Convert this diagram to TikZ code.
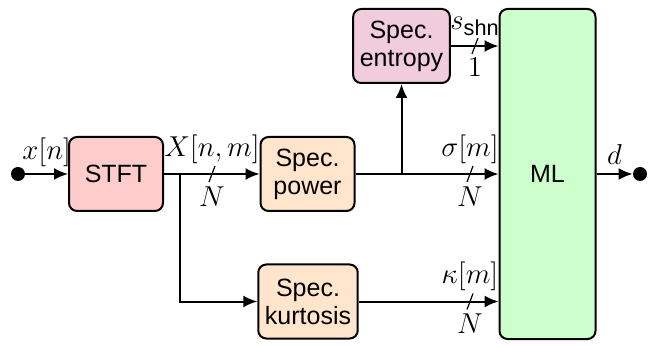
\documentclass[tikz,border=0pt]{standalone}
\usepackage{amsmath}
\usepackage{fontspec}
\setsansfont{Liberation Sans}
\usetikzlibrary{arrows.meta,positioning,calc}
\definecolor{rose}{RGB}{255,204,204}
\definecolor{mauve}{RGB}{240,204,220}
\definecolor{peach}{RGB}{255,229,204}
\definecolor{mint}{RGB}{204,255,204}
\tikzset{
  block/.style={draw,line width=1pt,rounded corners=4pt,minimum width=47pt,
    minimum height=37pt,align=center,font=\sffamily\fontsize{12.5}{14}\selectfont},
  arr/.style={-{Latex[length=7pt,width=6pt]},line width=1pt},
  dot/.style={circle,fill,inner sep=0pt,minimum size=7pt},
  sig/.style={font=\fontsize{15.5}{17}\selectfont,inner sep=1pt},
  bus/.style={line width=0.6pt},
}

\begin{document}
\begin{tikzpicture}[x=0.5pt,y=-0.5pt]
        \useasboundingbox (0,0) rectangle (656,346);
        \node[block,fill=rose] (stft) at (116,174) {STFT};
        \node[block,fill=peach] (power) at (307.5,174) {Spec.\\power};
        \node[block,fill=peach] (kurt) at (308,301.5) {Spec.\\kurtosis};
        \node[block,fill=mauve] (entropy) at (401.5,46) {Spec.\\entropy};
        \node[block,fill=mint,minimum width=48pt,minimum height=165pt] (ml) at (547.5,174) {ML};
        \node[dot] (in) at (18,174) {};
        \node[dot] (out) at (640,174) {};
        \coordinate (br1) at (180,174);
        \coordinate (br2) at (entropy.south |- power.east);
        % bus width marks
        \coordinate (bX) at (212,174);
        \coordinate (bS) at (470,174);
        \coordinate (bK) at (470,301.5);
        \coordinate (bE) at (475,46);
        \draw[arr] (in) -- node[sig,above=2pt] {$x[n]$} (stft);
        \draw[arr] (stft) -- (power);
        \draw[arr] (br1) |- (kurt);
        \draw[arr] (power) -- (ml);
        \draw[arr] (br2) -- (entropy);
        \draw[arr] (entropy) -- (entropy -| ml.west);
        \draw[arr] (kurt) -- (kurt -| ml.west);
        \draw[arr] (ml) -- node[sig,above=3pt] {$d$} (out);
        \foreach \b in {bX,bS,bK,bE}
          \draw[bus] ($(\b)+(-3,8)$) -- ($(\b)+(3,-8)$);
        \node[sig,above=4pt of bX] {$X[n,m]$};
        \node[sig,below=5pt of bX] {$N$};
        \node[sig,above=4pt of bS] {$\sigma[m]$};
        \node[sig,below=5pt of bS] {$N$};
        \node[sig,above=4pt of bK] {$\kappa[m]$};
        \node[sig,below=5pt of bK] {$N$};
        \node[sig,above=4pt of bE] {$s_{\textsf{shn}}$};
        \node[sig,below=5pt of bE] {$1$};
\end{tikzpicture}
\end{document}
